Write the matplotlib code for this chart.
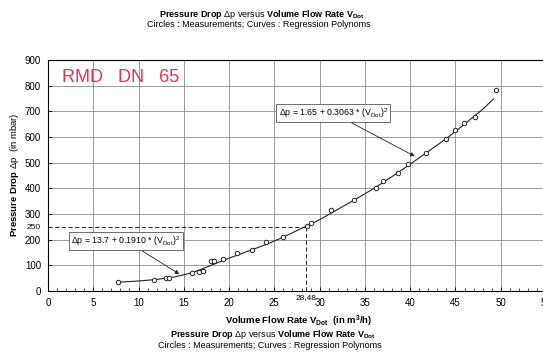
import matplotlib
matplotlib.use('Agg')
import matplotlib.pyplot as plt

plt.rcParams['font.family'] = ['Liberation Sans', 'DejaVu Sans']
plt.rcParams['mathtext.fontset'] = 'custom'
plt.rcParams['mathtext.rm'] = 'Liberation Sans'
plt.rcParams['mathtext.it'] = 'Liberation Sans:italic'
plt.rcParams['mathtext.bf'] = 'Liberation Sans:bold'

meas_x = [7.7, 11.7, 13.0, 13.4, 15.9, 16.7, 17.1, 18.0, 18.3, 19.3, 20.9, 22.5,
          24.1, 26.0, 28.6, 29.1, 31.3, 33.8, 36.2, 37.0, 38.6, 39.8, 41.8, 44.0,
          45.0, 45.9, 47.2, 49.5]
meas_y = [37, 43, 51, 51, 72, 75, 77, 115, 115, 125, 147, 159,
          190, 212, 254, 263, 314, 356, 400, 428, 461, 493, 536, 591,
          628, 653, 678, 782]

# regression curve as drawn
curve_x = [7.7, 10, 12, 14, 16, 18, 20, 22, 24, 26, 28, 30, 32, 34, 36, 38,
           40, 42, 44, 46, 48, 49.2]
curve_y = [34, 39, 45, 55, 72, 100, 128, 154, 180, 210, 244, 278, 318, 358, 400, 446,
           494, 544, 594, 650, 708, 748]

# marked operating point
op_x = 28.48
op_y = 250

x_ticks = list(range(0, 56, 5))
y_ticks = list(range(0, 901, 100))

fig = plt.figure(figsize=(5.43, 3.52), dpi=100)
ax = fig.add_axes([48 / 543, 1 - 291 / 352, 498 / 543, 231 / 352])

ax.set_xlim(0, 55)
ax.set_ylim(0, 900)
ax.set_xticks(x_ticks)
ax.set_xticks(range(0, 56), minor=True)
ax.set_yticks(y_ticks)
ax.set_yticks([op_y], minor=True)
ax.set_yticklabels(['250'], minor=True, fontsize=6)
ax.tick_params(axis='both', which='major', labelsize=7, direction='in', length=3,
               width=0.6, pad=5)
ax.tick_params(axis='x', which='minor', direction='in', length=2, width=0.5)
ax.tick_params(axis='y', which='minor', direction='in', length=0, pad=5)
ax.grid(True, which='major', color='#8a8a8a', lw=0.6)
ax.set_axisbelow(True)
for s in ax.spines.values():
    s.set_linewidth(0.8)

# dashed guide lines to operating point
ax.plot([0, op_x], [op_y, op_y], color='k', ls=(0, (5, 3)), lw=0.6)
ax.plot([op_x, op_x], [0, op_y], color='k', ls=(0, (5, 3)), lw=0.6)
ax.annotate('28,48', xy=(op_x, 0), xycoords=('data', 'axes fraction'),
            xytext=(0, -5), textcoords='offset points', ha='center', va='center',
            fontsize=6)

ax.plot(curve_x, curve_y, color='#222222', lw=0.8)
ax.plot(meas_x, meas_y, 'o', ms=3.2, mfc='white', mec='#222222', mew=0.7)

box = dict(boxstyle='square,pad=0.25', fc='white', ec='#555555', lw=0.6)
arrow = dict(arrowstyle='-|>', color='#222222', lw=0.6, mutation_scale=6,
             shrinkA=0, shrinkB=0)
ax.annotate(r'Δp = 13.7 + 0.1910 * (V$_{\mathrm{Dot}}$)$^2$', xy=(14.5, 66),
            xytext=(8.6, 196), ha='center', va='center', fontsize=6.3,
            bbox=box, arrowprops=arrow)
ax.annotate(r'Δp = 1.65 + 0.3063 * (V$_{\mathrm{Dot}}$)$^2$', xy=(40.5, 525),
            xytext=(31.5, 693), ha='center', va='center', fontsize=6.3,
            bbox=box, arrowprops=arrow)

ax.text(1.5, 833, 'RMD   DN   65', color='#e8354e', fontsize=13, ha='left', va='center')

title = r'$\mathbf{Pressure\ Drop}$ Δp versus $\mathbf{Volume\ Flow\ Rate\ V_{Dot}}$'
subtitle = 'Circles : Measurements; Curves : Regression Polynoms'
fig.text(0.4825, 0.960, title, ha='center', va='center', fontsize=6.5)
fig.text(0.477, 0.929, subtitle, ha='center', va='center', fontsize=6.5)
fig.text(0.55, 0.088, r'$\mathbf{Volume\ Flow\ Rate\ V_{Dot}}$  $\mathbf{(in\ m^3/h)}$',
         ha='center', va='center', fontsize=6.8)
fig.text(0.502, 0.049, title, ha='center', va='center', fontsize=6.5)
fig.text(0.497, 0.019, subtitle, ha='center', va='center', fontsize=6.5)
fig.text(0.026, 0.503, r'$\mathbf{Pressure\ Drop}$ Δp  (in mbar)', rotation=90,
         ha='center', va='center', fontsize=6.8)

fig.savefig('out.png', dpi=100)
